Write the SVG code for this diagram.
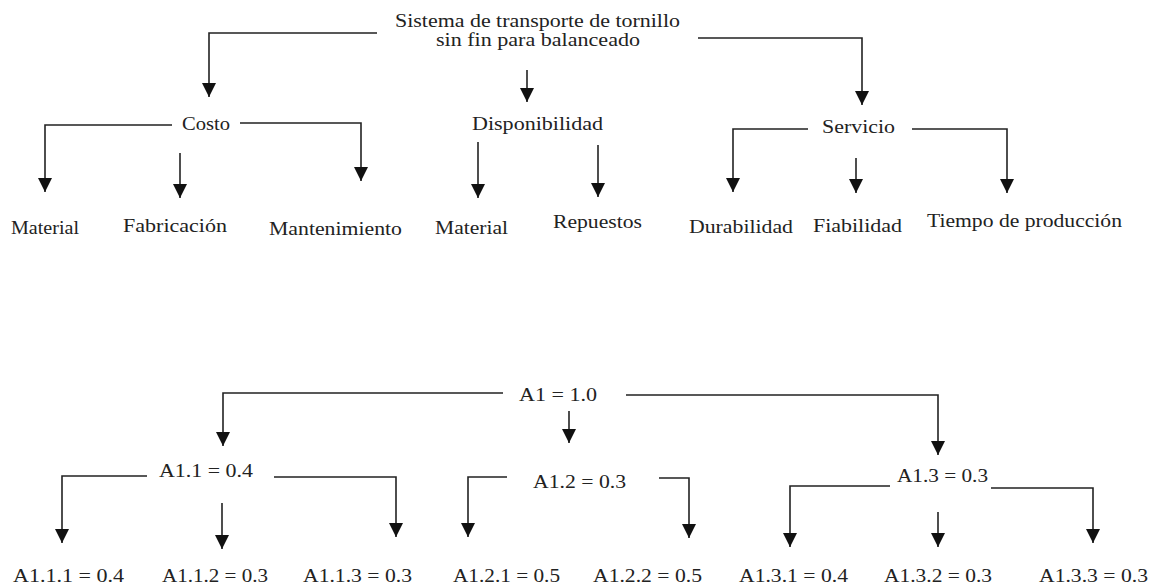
<svg xmlns="http://www.w3.org/2000/svg" width="1160" height="585" viewBox="0 0 1160 585">
  <style>
    .lbl { font-family: "Liberation Serif", "Times New Roman", serif; font-size: 19px; fill: #222; }
    .wire { fill: none; stroke: #222; stroke-width: 1.6; marker-end: url(#ah); }
  </style>
  <defs>
    <marker id="ah" viewBox="0 0 14 14" refX="14" refY="7" markerWidth="14" markerHeight="14" orient="auto" markerUnits="userSpaceOnUse">
      <path d="M0,0 L14,7 L0,14 z" fill="#111"/>
    </marker>
  </defs>
  <rect width="1160" height="585" fill="#fff"/>

  <!-- Upper tree: criteria hierarchy -->
  <g id="n-sistema">
    <text class="lbl" x="395" y="27" textLength="285" lengthAdjust="spacingAndGlyphs">Sistema de transporte de tornillo</text>
    <text class="lbl" x="436" y="46" textLength="204" lengthAdjust="spacingAndGlyphs">sin fin para balanceado</text>
  </g>
  <g id="n-costo"><text class="lbl" x="182" y="130" textLength="48" lengthAdjust="spacingAndGlyphs">Costo</text></g>
  <g id="n-disponibilidad"><text class="lbl" x="472" y="130" textLength="131" lengthAdjust="spacingAndGlyphs">Disponibilidad</text></g>
  <g id="n-servicio"><text class="lbl" x="822" y="133" textLength="73" lengthAdjust="spacingAndGlyphs">Servicio</text></g>
  <g id="n-material-1"><text class="lbl" x="11" y="234" textLength="68" lengthAdjust="spacingAndGlyphs">Material</text></g>
  <g id="n-fabricacion"><text class="lbl" x="123" y="232" textLength="104" lengthAdjust="spacingAndGlyphs">Fabricación</text></g>
  <g id="n-mantenimiento"><text class="lbl" x="269" y="235" textLength="133" lengthAdjust="spacingAndGlyphs">Mantenimiento</text></g>
  <g id="n-material-2"><text class="lbl" x="435" y="234" textLength="73" lengthAdjust="spacingAndGlyphs">Material</text></g>
  <g id="n-repuestos"><text class="lbl" x="553" y="228" textLength="89" lengthAdjust="spacingAndGlyphs">Repuestos</text></g>
  <g id="n-durabilidad"><text class="lbl" x="689" y="233" textLength="104" lengthAdjust="spacingAndGlyphs">Durabilidad</text></g>
  <g id="n-fiabilidad"><text class="lbl" x="813" y="232" textLength="89" lengthAdjust="spacingAndGlyphs">Fiabilidad</text></g>
  <g id="n-tiempo"><text class="lbl" x="927" y="227" textLength="195" lengthAdjust="spacingAndGlyphs">Tiempo de producción</text></g>

  <!-- Lower tree: weights -->
  <g id="n-a1"><text class="lbl" x="519" y="401" textLength="78" lengthAdjust="spacingAndGlyphs">A1 = 1.0</text></g>
  <g id="n-a11"><text class="lbl" x="159" y="477" textLength="94" lengthAdjust="spacingAndGlyphs">A1.1 = 0.4</text></g>
  <g id="n-a12"><text class="lbl" x="533" y="488" textLength="93" lengthAdjust="spacingAndGlyphs">A1.2 = 0.3</text></g>
  <g id="n-a13"><text class="lbl" x="897" y="482" textLength="91" lengthAdjust="spacingAndGlyphs">A1.3 = 0.3</text></g>
  <g id="n-a111"><text class="lbl" x="13" y="582" textLength="111" lengthAdjust="spacingAndGlyphs">A1.1.1 = 0.4</text></g>
  <g id="n-a112"><text class="lbl" x="162" y="582" textLength="106" lengthAdjust="spacingAndGlyphs">A1.1.2 = 0.3</text></g>
  <g id="n-a113"><text class="lbl" x="303" y="582" textLength="109" lengthAdjust="spacingAndGlyphs">A1.1.3 = 0.3</text></g>
  <g id="n-a121"><text class="lbl" x="453" y="582" textLength="107" lengthAdjust="spacingAndGlyphs">A1.2.1 = 0.5</text></g>
  <g id="n-a122"><text class="lbl" x="593" y="582" textLength="109" lengthAdjust="spacingAndGlyphs">A1.2.2 = 0.5</text></g>
  <g id="n-a131"><text class="lbl" x="739" y="582" textLength="109" lengthAdjust="spacingAndGlyphs">A1.3.1 = 0.4</text></g>
  <g id="n-a132"><text class="lbl" x="884" y="582" textLength="108" lengthAdjust="spacingAndGlyphs">A1.3.2 = 0.3</text></g>
  <g id="n-a133"><text class="lbl" x="1039" y="582" textLength="109" lengthAdjust="spacingAndGlyphs">A1.3.3 = 0.3</text></g>

  <g id="connectors">
    <!-- upper tree -->
    <path class="wire" d="M377,33 H209 V97"/>
    <path class="wire" d="M527,70 V102"/>
    <path class="wire" d="M698,38 H862 V105"/>
    <path class="wire" d="M172,125 H45 V192"/>
    <path class="wire" d="M180,153 V198"/>
    <path class="wire" d="M240,123 H361 V181"/>
    <path class="wire" d="M478,142 V198"/>
    <path class="wire" d="M598,145 V197"/>
    <path class="wire" d="M808,129 H733 V192"/>
    <path class="wire" d="M856,158 V193"/>
    <path class="wire" d="M912,129 H1007 V193"/>
    <!-- lower tree -->
    <path class="wire" d="M503,393 H223 V446"/>
    <path class="wire" d="M569,411 V443"/>
    <path class="wire" d="M626,395 H938 V455"/>
    <path class="wire" d="M147,476 H62 V543"/>
    <path class="wire" d="M222,503 V549"/>
    <path class="wire" d="M274,477 H396 V537"/>
    <path class="wire" d="M507,477 H468 V537"/>
    <path class="wire" d="M659,478 H689 V538"/>
    <path class="wire" d="M890,486 H790 V547"/>
    <path class="wire" d="M938,512 V547"/>
    <path class="wire" d="M991,488 H1093 V543"/>
  </g>
</svg>
